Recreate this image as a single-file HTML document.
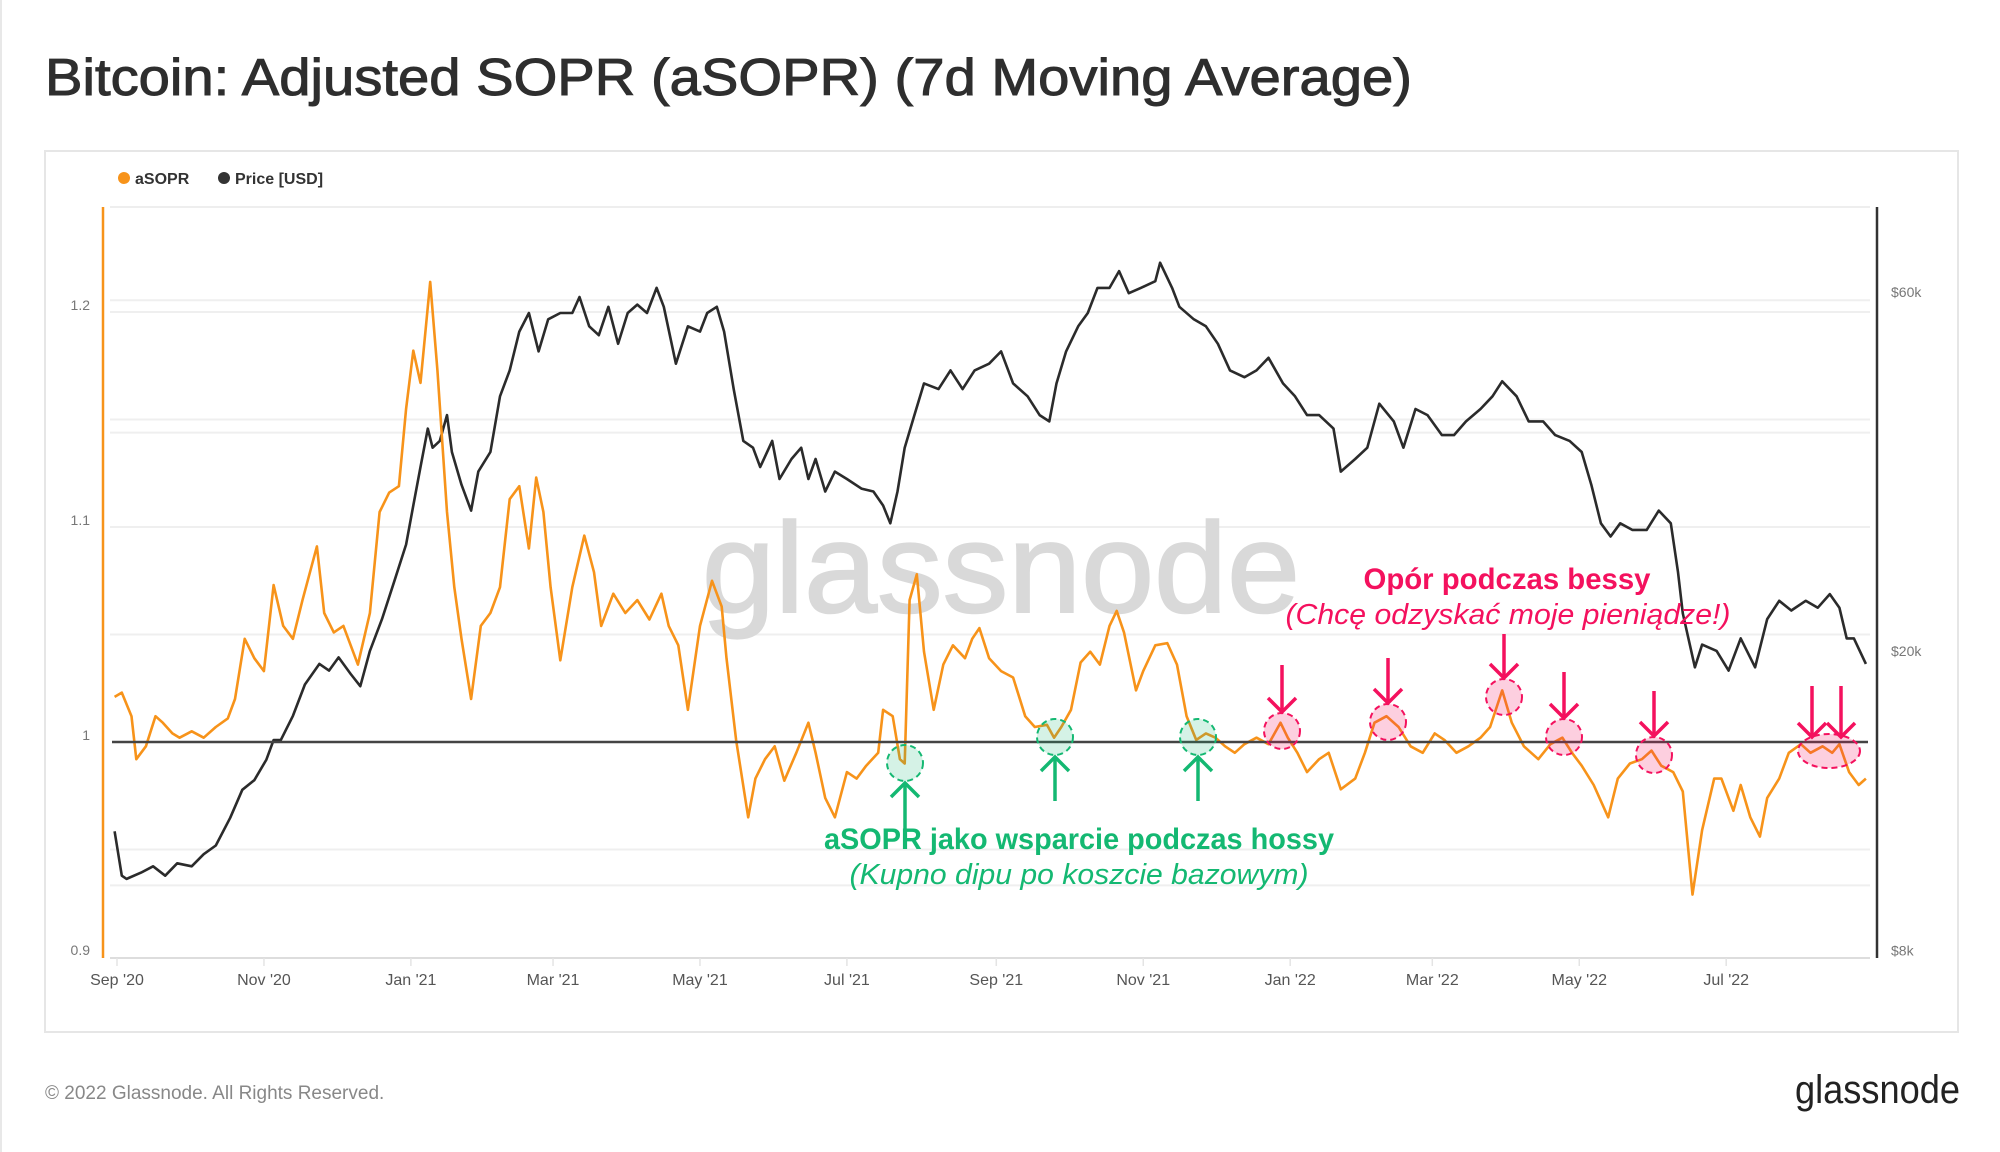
<!DOCTYPE html>
<html><head><meta charset="utf-8">
<style>
html,body{margin:0;padding:0;background:#fff;}
svg{display:block;font-family:"Liberation Sans",sans-serif;}
</style></head>
<body>
<svg id="chart" width="2000" height="1152" viewBox="0 0 2000 1152" xmlns="http://www.w3.org/2000/svg">
<rect x="0" y="0" width="2000" height="1152" fill="#fff"/>
<line x1="1" y1="0" x2="1" y2="1152" stroke="#e8e8e8" stroke-width="2"/>
<text x="45" y="95" font-size="52" fill="#2e2e2e" stroke="#2e2e2e" stroke-width="1" textLength="1367" lengthAdjust="spacingAndGlyphs">Bitcoin: Adjusted SOPR (aSOPR) (7d Moving Average)</text>
<rect x="45" y="151" width="1913" height="881" fill="#fff" stroke="#e6e6e6" stroke-width="2"/>
<g>
 <g><circle cx="124" cy="178" r="6" fill="#f7931a"/><text x="135" y="184" font-size="16" font-weight="bold" fill="#333">aSOPR</text></g>
 <g><circle cx="224" cy="178" r="6" fill="#333"/><text x="235" y="184" font-size="16" font-weight="bold" fill="#333">Price [USD]</text></g>
</g>
<g id="grid"></g>
<text x="1001" y="612" font-size="128" fill="#d9d9d9" stroke="#d9d9d9" stroke-width="2" text-anchor="middle" textLength="598" lengthAdjust="spacingAndGlyphs">glassnode</text>
<g id="axes"></g>
<g id="series"></g>
<g id="annot"></g>
<text x="45" y="1099" font-size="19" fill="#888">© 2022 Glassnode. All Rights Reserved.</text>
<text x="1960" y="1103" font-size="40" fill="#222" text-anchor="end" textLength="165" lengthAdjust="spacingAndGlyphs">glassnode</text>
</svg>
<script>
// ---- data (days since 2020-09-01) ----
const asoprDays=[-1,2,6,8,12,16,19,23,26,31,36,41,46,49,53,57,61,65,69,73,77,83,86,90,94,100,105,109,113,117,120,123,126,130,133,137,140,143,147,151,155,159,163,167,171,174,177,180,184,189,194,198,201,206,211,216,221,226,229,233,237,242,247,251,253,257,262,265,269,273,277,282,287,290,294,298,303,307,311,316,318,322,325,327,329,332,335,339,343,347,352,355,358,362,367,372,377,381,386,389,392,396,400,404,408,412,415,418,423,426,431,436,440,444,448,452,456,460,464,468,473,478,483,486,490,494,499,503,508,514,518,522,527,532,537,542,547,551,556,561,566,570,575,579,584,590,595,600,604,608,613,619,623,628,633,637,641,646,650,654,658,663,666,671,674,678,682,685,690,694,699,703,708,712,715,719,723,726];
const asoprVals=[1.021,1.023,1.012,0.992,0.998,1.012,1.009,1.004,1.002,1.005,1.002,1.007,1.011,1.020,1.048,1.039,1.033,1.073,1.054,1.048,1.066,1.091,1.060,1.051,1.054,1.036,1.060,1.107,1.116,1.119,1.155,1.182,1.167,1.214,1.173,1.107,1.072,1.048,1.020,1.054,1.060,1.072,1.113,1.119,1.090,1.123,1.107,1.072,1.038,1.072,1.096,1.079,1.054,1.069,1.060,1.066,1.057,1.069,1.054,1.045,1.015,1.054,1.075,1.063,1.039,1.001,0.965,0.983,0.992,0.998,0.982,0.995,1.009,0.995,0.974,0.965,0.986,0.983,0.989,0.995,1.015,1.012,0.992,0.990,1.066,1.078,1.042,1.015,1.036,1.045,1.039,1.048,1.053,1.039,1.033,1.030,1.012,1.007,1.008,1.002,1.007,1.015,1.037,1.042,1.036,1.054,1.061,1.051,1.024,1.033,1.045,1.046,1.036,1.012,1.001,1.004,1.002,0.998,0.995,0.999,1.002,0.999,1.009,1.002,0.995,0.986,0.992,0.995,0.978,0.983,0.995,1.009,1.012,1.007,0.998,0.995,1.004,1.001,0.995,0.998,1.002,1.007,1.024,1.009,0.998,0.992,0.999,1.002,0.995,0.989,0.980,0.965,0.983,0.990,0.992,0.996,0.989,0.986,0.977,0.929,0.959,0.983,0.983,0.968,0.980,0.965,0.956,0.974,0.983,0.995,0.999,0.995,0.998,0.995,0.999,0.986,0.980,0.983];
const priceDays=[-1,2,4,10,15,20,25,31,36,41,47,52,57,62,65,68,73,78,84,88,92,97,101,105,110,115,120,123,126,129,131,134,137,139,143,147,150,155,159,163,167,171,175,179,184,189,192,196,200,204,208,212,216,220,224,227,232,237,242,245,249,252,256,260,264,267,272,275,280,284,287,290,294,298,303,309,314,318,321,324,327,331,335,341,346,351,356,362,367,372,378,383,387,390,394,399,403,407,412,416,420,425,431,433,438,441,447,452,457,462,468,473,478,484,489,494,499,505,508,514,519,524,530,534,539,544,550,555,560,566,571,575,581,586,592,597,603,608,612,616,620,624,629,635,640,645,648,650,655,658,664,669,674,680,685,690,695,701,706,711,715,718,721,726];
const priceVals=[11.8,10.3,10.2,10.4,10.6,10.3,10.7,10.6,11.0,11.3,12.3,13.4,13.8,14.7,15.6,15.6,16.8,18.5,19.7,19.3,20.1,19.1,18.4,20.5,22.6,25.3,28.4,32.0,36.0,40.5,38.2,39.0,42.2,37.7,34.1,31.5,35.5,37.7,44.7,48.4,54.5,57.7,51.3,56.6,57.7,57.7,60.6,55.4,53.9,58.8,52.5,57.7,59.2,57.7,62.3,58.8,49.4,55.4,54.5,57.7,58.8,54.5,45.7,39.0,38.2,36.0,39.0,34.7,36.9,38.2,34.7,36.9,33.4,35.5,34.7,33.7,33.4,32.0,30.3,33.4,38.2,42.2,46.5,45.7,48.4,45.7,48.4,49.4,51.3,46.5,44.7,42.2,41.4,46.5,51.3,55.4,57.7,62.3,62.3,65.6,61.3,62.3,63.6,67.3,62.3,58.8,56.6,55.4,52.5,48.4,47.4,48.4,50.3,46.5,44.7,42.2,42.2,40.5,35.5,36.9,38.2,43.7,41.4,38.2,43.0,42.2,39.7,39.7,41.4,43.0,44.7,46.8,44.7,41.4,41.4,39.7,39.0,37.7,34.1,30.3,29.1,30.3,29.7,29.7,31.5,30.3,26.1,23.0,19.5,20.9,20.5,19.3,21.3,19.5,22.6,23.9,23.2,23.9,23.4,24.4,23.4,21.3,21.3,19.7];
const xTickLabels=["Sep '20","Nov '20","Jan '21","Mar '21","May '21","Jul '21","Sep '21","Nov '21","Jan '22","Mar '22","May '22","Jul '22"];
const xTickDays=[0,61,122,181,242,303,365,426,487,546,607,668];
const leftTicks=[0.9,1,1.1,1.2];
const leftTickLabels=["0.9","1","1.1","1.2"];
const leftGrid=[0.95,1.05,1.1,1.15,1.2];
const rightTicks=[8,20,60];
const rightTickLabels=["$8k","$20k","$60k"];
const rightGrid=[10,40,60];

// ---- scales ----
const X=d=>117+d*2.409;
const YL=v=>957-(v-0.9)*2150;
const YR=p=>659-752*Math.log10(p/20);
const NS="http://www.w3.org/2000/svg";
function mk(tag,attrs,parent,txt){const e=document.createElementNS(NS,tag);for(const k in attrs)e.setAttribute(k,attrs[k]);if(txt!==undefined)e.textContent=txt;parent.appendChild(e);return e;}
const grid=document.getElementById('grid'),axes=document.getElementById('axes'),series=document.getElementById('series'),annot=document.getElementById('annot');

mk('line',{x1:110,x2:1870,y1:207,y2:207,stroke:'#eeeeee','stroke-width':2},grid);
leftGrid.forEach(v=>{const l=mk('line',{x1:110,x2:1870,y1:YL(v),y2:YL(v),stroke:'#efefef','stroke-width':2},grid);

});
rightGrid.forEach(p=>{const l=mk('line',{x1:110,x2:1870,y1:YR(p),y2:YR(p),stroke:'#efefef','stroke-width':2},grid);

});

// axes
mk('line',{x1:110,x2:1870,y1:958,y2:958,stroke:'#ddd','stroke-width':2},axes);
mk('line',{x1:103,x2:103,y1:207,y2:958,stroke:'#f7931a','stroke-width':2.5},axes);
mk('line',{x1:1877,x2:1877,y1:207,y2:958,stroke:'#333','stroke-width':2.5},axes);
leftTicks.forEach((v,i)=>{const t=mk('text',{x:90,y:YL(v)-2,'font-size':14,fill:'#777','text-anchor':'end'},axes,leftTickLabels[i]);

});
rightTicks.forEach((p,i)=>{const t=mk('text',{x:1891,y:YR(p)-3,'font-size':14,fill:'#777'},axes,rightTickLabels[i]);

});
xTickDays.forEach((d,i)=>{mk('line',{x1:X(d),x2:X(d),y1:958,y2:966,stroke:'#e4e4e4','stroke-width':1.5},axes);
const t=mk('text',{x:X(d),y:985,'font-size':16,fill:'#555','text-anchor':'middle'},axes,xTickLabels[i]);

});

// series
function path(days,vals,fy){return days.map((d,i)=>(i?'L':'M')+X(d).toFixed(1)+','+fy(vals[i]).toFixed(1)).join('');}
const pp=mk('path',{d:path(priceDays,priceVals,YR),fill:'none',stroke:'#2b2b2b','stroke-width':2.6,'stroke-linejoin':'round'},series);


const ap=mk('path',{d:path(asoprDays,asoprVals,YL),fill:'none',stroke:'#f7931a','stroke-width':2.6,'stroke-linejoin':'round'},series);


const bl=mk('line',{x1:112,x2:1868,y1:YL(1),y2:YL(1),stroke:'#444','stroke-width':2.5},series);



// annotations
const G='#14b872',R='#f4115e';
function arrow(x,y1,y2,col){const dir=y2>y1?-1:1;
mk('line',{x1:x,x2:x,y1:y1,y2:y2,stroke:col,'stroke-width':3.5},annot);
mk('polyline',{points:`${x-14},${y2+dir*14} ${x},${y2} ${x+14},${y2+dir*14}`,fill:'none',stroke:col,'stroke-width':3.5},annot);}
[[905,763,829],[1055,737,801],[1198,737,801]].forEach(([cx,cy,yb])=>{
const c=mk('circle',{cx:cx,cy:cy,r:18,fill:'rgba(20,184,114,0.18)',stroke:G,'stroke-width':2,'stroke-dasharray':'6 4'},annot);


arrow(cx,yb,cy+20,G);});
[[1282,731,665],[1388,722,658],[1504,697,634],[1564,737,672],[1654,755,691]].forEach(([cx,cy,yt])=>{
const c=mk('circle',{cx:cx,cy:cy,r:18,fill:'rgba(244,17,94,0.2)',stroke:R,'stroke-width':2,'stroke-dasharray':'6 4'},annot);


arrow(cx,yt,cy-19,R);});
const el=mk('ellipse',{cx:1829,cy:751,rx:31,ry:17,fill:'rgba(244,17,94,0.2)',stroke:R,'stroke-width':2,'stroke-dasharray':'6 4'},annot);


arrow(1812,686,737,R);arrow(1841,686,737,R);
const t1=mk('text',{x:1079,y:849,'font-size':30,'font-weight':'bold',fill:G,'text-anchor':'middle',textLength:510,lengthAdjust:'spacingAndGlyphs'},annot,'aSOPR jako wsparcie podczas hossy');


const t2=mk('text',{x:1079,y:884,'font-size':29,'font-style':'italic',fill:G,'text-anchor':'middle',textLength:459,lengthAdjust:'spacingAndGlyphs'},annot,'(Kupno dipu po koszcie bazowym)');


const t3=mk('text',{x:1507,y:589,'font-size':30,'font-weight':'bold',fill:R,'text-anchor':'middle',textLength:287,lengthAdjust:'spacingAndGlyphs'},annot,'Opór podczas bessy');


const t4=mk('text',{x:1508,y:624,'font-size':29,'font-style':'italic',fill:R,'text-anchor':'middle',textLength:445,lengthAdjust:'spacingAndGlyphs'},annot,'(Chcę odzyskać moje pieniądze!)');


</script>
</body></html>
